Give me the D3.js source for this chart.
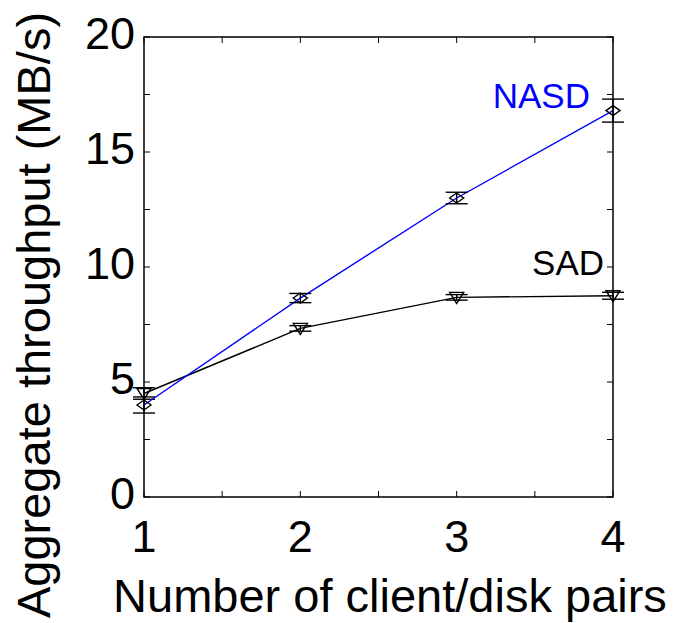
<html>
<head>
<script src="https://d3js.org/d3.v7.min.js"></script>
<style>
body { margin: 0; background: #fff; }
text { font-family: "Liberation Sans", Arial, sans-serif; }
</style>
</head>
<body>
<svg width="679" height="623"></svg>
<script>
const pairs = [1, 2, 3, 4];
const nasd = [4.0, 8.65, 13.0, 16.8];
const nasdErr = [0.35, 0.2, 0.25, 0.5];
const sad = [4.5, 7.33, 8.68, 8.75];
const sadErr = [0.25, 0.12, 0.12, 0.15];
const xTicks = [1, 2, 3, 4];
const yTicks = [0, 5, 10, 15, 20];

const svg = d3.select('svg');
const mLeft = 144, mRight = 613, mTop = 37, mBottom = 497;

const x = d3.scaleLinear().domain([1, 4]).range([mLeft, mRight]);
const y = d3.scaleLinear().domain([0, 20]).range([mBottom, mTop]);

// frame
svg.append('rect')
    .attr('x', mLeft).attr('y', mTop)
    .attr('width', mRight - mLeft).attr('height', mBottom - mTop)
    .attr('fill', 'none').attr('stroke', '#000').attr('stroke-width', 1.5);

// inward ticks on all four sides
const minorX = d3.range(1, 4.01, 0.5);
const minorY = d3.range(0, 20.01, 2.5);
const tl = 6;
minorX.forEach(v => {
    svg.append('line').attr('x1', x(v)).attr('x2', x(v)).attr('y1', mBottom).attr('y2', mBottom - tl).attr('stroke', '#000');
    svg.append('line').attr('x1', x(v)).attr('x2', x(v)).attr('y1', mTop).attr('y2', mTop + tl).attr('stroke', '#000');
});
minorY.forEach(v => {
    svg.append('line').attr('x1', mLeft).attr('x2', mLeft + tl).attr('y1', y(v)).attr('y2', y(v)).attr('stroke', '#000');
    svg.append('line').attr('x1', mRight).attr('x2', mRight - tl).attr('y1', y(v)).attr('y2', y(v)).attr('stroke', '#000');
});

// tick labels
svg.selectAll('text.xt').data(xTicks).join('text')
    .attr('class', 'xt')
    .attr('x', d => x(d)).attr('y', 552)
    .attr('text-anchor', 'middle').attr('font-size', 45)
    .text(d => d);
svg.selectAll('text.yt').data(yTicks).join('text')
    .attr('class', 'yt')
    .attr('x', 135).attr('y', d => y(d) + 12)
    .attr('text-anchor', 'end').attr('font-size', 45)
    .text(d => d);

// axis titles
svg.append('text')
    .attr('x', 390).attr('y', 612)
    .attr('text-anchor', 'middle').attr('font-size', 47)
    .text('Number of client/disk pairs');
svg.append('text')
    .attr('transform', 'translate(50,' + 315 + ') rotate(-90)')
    .attr('text-anchor', 'middle').attr('font-size', 47)
    .text('Aggregate throughput (MB/s)');

function series(vals, errs, color, marker) {
    const line = d3.line().x((d, i) => x(pairs[i])).y(d => y(d));
    svg.append('path').datum(vals)
        .attr('d', line).attr('fill', 'none')
        .attr('stroke', color).attr('stroke-width', 1.4);
    vals.forEach((v, i) => {
        const cx = x(pairs[i]);
        const g = svg.append('g').attr('stroke', '#000').attr('stroke-width', 1.4);
        g.append('line').attr('x1', cx).attr('x2', cx).attr('y1', y(v - errs[i])).attr('y2', y(v + errs[i]));
        [v - errs[i], v + errs[i]].forEach(e => {
            g.append('line').attr('x1', cx - 11).attr('x2', cx + 11).attr('y1', y(e)).attr('y2', y(e));
        });
        const cy = y(v);
        if (marker === 'diamond') {
            g.append('path').attr('fill', 'none')
                .attr('d', `M${cx - 7},${cy}L${cx},${cy - 5}L${cx + 7},${cy}L${cx},${cy + 5}Z`);
        } else {
            g.append('path').attr('fill', 'none')
                .attr('d', `M${cx - 7},${cy - 5}L${cx + 7},${cy - 5}L${cx},${cy + 6}Z`);
        }
    });
}
series(sad, sadErr, '#000', 'tri');
series(nasd, nasdErr, '#0000ff', 'diamond');

svg.append('text')
    .attr('x', 590).attr('y', 108)
    .attr('text-anchor', 'end').attr('font-size', 35).attr('fill', '#0000ff')
    .text('NASD');
svg.append('text')
    .attr('x', 604).attr('y', 275)
    .attr('text-anchor', 'end').attr('font-size', 35).attr('fill', '#000')
    .text('SAD');
</script>
</body>
</html>
